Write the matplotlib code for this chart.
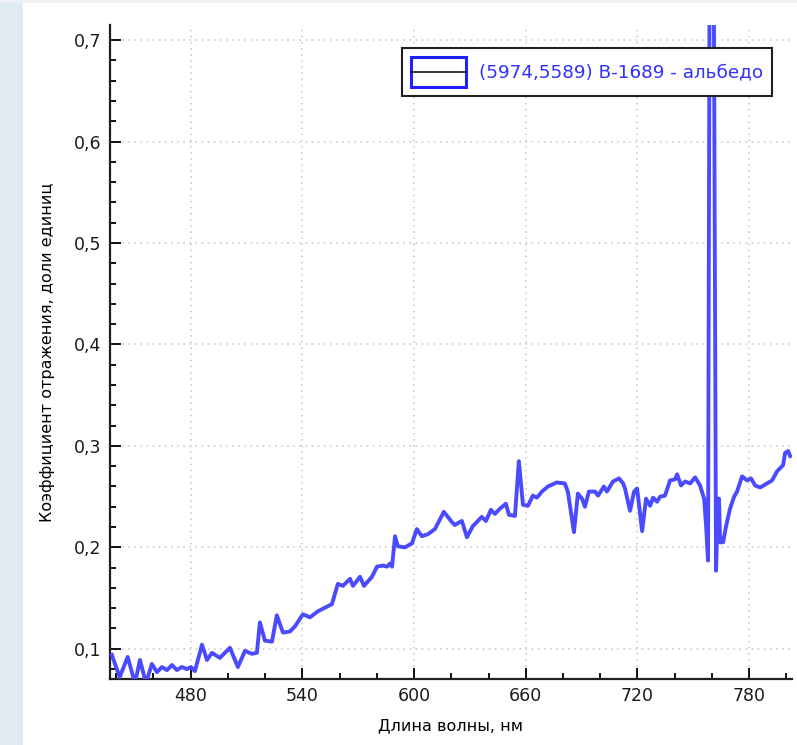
import numpy as np
import matplotlib.pyplot as plt
from matplotlib.patches import Patch, Rectangle
from matplotlib.lines import Line2D
from matplotlib.legend_handler import HandlerBase
from matplotlib.ticker import MultipleLocator, FuncFormatter

# спектр альбедо (длина волны, нм -> коэффициент отражения)
wavelength = [
    437.7, 441.9, 446.2, 450.1, 452.8, 456.0, 459.2, 461.9, 464.6, 467.3,
    470.0, 472.6, 475.3, 478.0, 480.2, 482.3, 486.1, 488.8, 491.5, 495.7,
    501.1, 505.4, 509.2, 512.9, 515.6, 517.2, 519.9, 523.7, 526.3, 529.6,
    533.3, 536.0, 540.3, 544.1, 548.4, 553.8, 555.9, 559.1, 561.8, 565.6,
    567.2, 571.0, 573.1, 577.4, 580.1, 583.3, 585.5, 587.1, 588.2, 589.8,
    591.3, 595.1, 598.9, 601.5, 604.2, 607.5, 611.2, 616.0, 620.3, 621.9,
    624.6, 625.7, 628.4, 631.6, 636.4, 638.6, 641.3, 643.4, 646.1, 649.3,
    651.0, 654.2, 656.3, 658.5, 661.2, 663.8, 666.0, 668.7, 671.9, 676.7,
    681.0, 682.6, 685.9, 688.0, 690.2, 691.8, 693.9, 697.2, 698.8, 702.0,
    703.6, 706.9, 710.1, 712.3, 713.3, 716.0, 718.2, 719.8, 722.5, 724.6,
    726.8, 728.4, 730.5, 732.2, 734.8, 737.5, 740.2, 741.3, 743.4, 745.6,
    748.3, 751.0, 753.6, 755.8, 756.9, 757.9, 759.0, 760.6, 762.2, 763.3,
    763.8, 764.4, 766.0, 767.6, 769.7, 771.9, 773.5, 776.2, 778.9, 781.0,
    783.2, 785.9, 789.6, 792.3, 795.0, 798.2, 799.3, 800.9, 802.0,
]
albedo = [
    0.094, 0.072, 0.092, 0.066, 0.089, 0.066, 0.085, 0.077, 0.082, 0.079,
    0.084, 0.079, 0.082, 0.080, 0.082, 0.078, 0.104, 0.089, 0.096, 0.091,
    0.101, 0.082, 0.098, 0.095, 0.096, 0.126, 0.108, 0.107, 0.133, 0.116,
    0.117, 0.122, 0.134, 0.131, 0.137, 0.142, 0.144, 0.164, 0.162, 0.169,
    0.162, 0.171, 0.162, 0.171, 0.181, 0.182, 0.181, 0.184, 0.181, 0.211,
    0.201, 0.200, 0.204, 0.218, 0.211, 0.213, 0.218, 0.235, 0.225, 0.222,
    0.225, 0.226, 0.210, 0.221, 0.230, 0.226, 0.237, 0.233, 0.238, 0.243,
    0.232, 0.231, 0.285, 0.242, 0.241, 0.251, 0.249, 0.255, 0.260, 0.264,
    0.263, 0.255, 0.215, 0.253, 0.248, 0.240, 0.255, 0.255, 0.251, 0.260,
    0.255, 0.265, 0.268, 0.263, 0.258, 0.236, 0.255, 0.258, 0.216, 0.248,
    0.241, 0.249, 0.245, 0.250, 0.251, 0.266, 0.267, 0.272, 0.261, 0.265,
    0.263, 0.269, 0.261, 0.248, 0.220, 0.187, 0.950, 0.950, 0.177, 0.248,
    0.248, 0.205, 0.205, 0.221, 0.238, 0.250, 0.255, 0.270, 0.266, 0.268,
    0.261, 0.259, 0.263, 0.266, 0.275, 0.281, 0.293, 0.295, 0.290,
]

series_label = "(5974,5589) B-1689 - альбедо"
x_label = "Длина волны, нм"
y_label = "Коэффициент отражения, доли единиц"

blue = "#4a4aff"


class BoxWithLine(HandlerBase):
    # рамка серии с чёрной чертой посередине
    def create_artists(self, legend, orig, xdescent, ydescent, width, height,
                       fontsize, trans):
        x0, y0 = -xdescent, -ydescent
        rect = Rectangle((x0, y0), width, height, facecolor="white",
                         edgecolor="#2020ff", lw=2.2, transform=trans)
        mid = Line2D([x0, x0 + width], [y0 + height / 2] * 2,
                     color="black", lw=1.1, transform=trans)
        return [rect, mid]


fig = plt.figure(figsize=(7.97, 7.45), dpi=100, facecolor="white")

# светло-голубая полоса окна слева и серая сверху
fig.patches.append(Rectangle((0, 0), 23 / 797, 1, transform=fig.transFigure,
                             facecolor="#dfeaf3", edgecolor="none", zorder=-1))
fig.patches.append(Rectangle((0, 742 / 745), 1, 3 / 745, transform=fig.transFigure,
                             facecolor="#eef2f6", edgecolor="none", zorder=-1))

ax = fig.add_axes([110 / 797, 66 / 745, 682 / 797, 654 / 745])
ax.plot(wavelength, albedo, color=blue, lw=2.8, solid_joinstyle="round", zorder=3)

ax.set_xlim(436.7, 803)
ax.set_ylim(0.0702, 0.715)

ax.xaxis.set_major_locator(MultipleLocator(60))
ax.xaxis.set_minor_locator(MultipleLocator(20))
ax.yaxis.set_major_locator(MultipleLocator(0.1))
ax.yaxis.set_minor_locator(MultipleLocator(0.02))
ax.yaxis.set_major_formatter(FuncFormatter(lambda v, p: f"{v:.1f}".replace(".", ",")))

ax.tick_params(which="both", direction="in", colors="black", labelsize=12.5, width=1.3)
ax.tick_params(which="major", length=8, pad=6)
ax.tick_params(which="minor", length=4)
for lab in ax.get_xticklabels() + ax.get_yticklabels():
    lab.set_color("#1a1a1a")

for s in ["top", "right"]:
    ax.spines[s].set_visible(False)
for s in ["left", "bottom"]:
    ax.spines[s].set_linewidth(1.6)
    ax.spines[s].set_color("#202020")

ax.grid(True, which="major", color="#c4c4c4", linestyle=(0, (1, 3)), lw=1.1)

ax.set_xlabel(x_label, fontsize=11.5, labelpad=9)
ax.set_ylabel(y_label, fontsize=11.5, labelpad=14)

leg = ax.legend([Patch()], [series_label], handler_map={Patch: BoxWithLine()},
                loc="upper right", bbox_to_anchor=(0.971, 0.965), borderaxespad=0,
                fancybox=False, framealpha=1, edgecolor="#202020",
                fontsize=13.2, labelcolor="#3030ff",
                handlelength=3.0, handleheight=2.1, handletextpad=0.7,
                borderpad=0.5)
leg.get_frame().set_linewidth(1.5)
leg.set_zorder(5)

fig.savefig("out.png", dpi=100, facecolor=fig.get_facecolor())
